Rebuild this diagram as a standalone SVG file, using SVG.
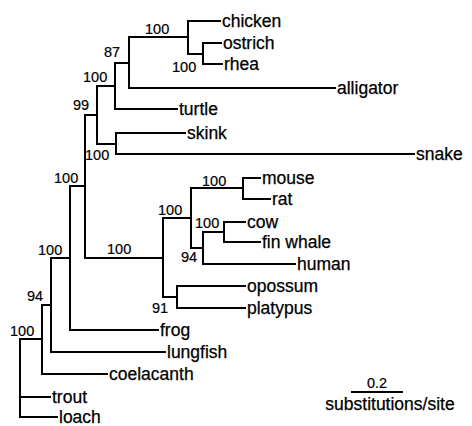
<svg xmlns="http://www.w3.org/2000/svg" width="472" height="426" viewBox="0 0 472 426">
<style>
.br{fill:none;stroke:#000;stroke-width:2;stroke-linecap:square}
.tx{font-family:"Liberation Sans",Arial,sans-serif;font-size:17.5px;fill:#000;stroke:#000;stroke-width:0.25}
.bs{font-family:"Liberation Sans",Arial,sans-serif;font-size:14.5px;fill:#000;stroke:#000;stroke-width:0.2}
</style>
<rect width="472" height="426" fill="#fff"/>
<g id="connectors" class="br">
<path d="M188 21V54M203 43V64M129 37V88M115 63V109M116 133V154M97 86V144M243 178V199M224 222V242M203 232V264M191 188V248M177 286V308M163 218V297M85 115V258M70 186V330M51 258V352M42 305V374M20 339V417"/>
<path d="M188 21H220M203 43H221M203 64H222M188 54H203M129 37H188M129 88H335M115 63H129M115 109H177M97 86H115M116 133H185M116 154H414M97 144H116M85 115H97"/>
<path d="M243 178H260M243 199H270M191 188H243M224 222H245M224 242H260M203 232H224M203 264H295M191 248H203M163 218H191M177 286H245M177 308H245M163 297H177M85 258H163"/>
<path d="M70 186H85M70 330H158M51 258H70M51 352H165M42 305H51M42 374H107M20 339H42M20 397H50M20 417H57"/>
<path d="M352 392H402"/>
</g>
<g id="chicken"><text class="tx" x="222" y="27">chicken</text></g>
<g id="ostrich"><text class="tx" x="223" y="49">ostrich</text></g>
<g id="rhea"><text class="tx" x="224" y="70">rhea</text></g>
<g id="alligator"><text class="tx" x="337" y="94">alligator</text></g>
<g id="turtle"><text class="tx" x="179" y="115">turtle</text></g>
<g id="skink"><text class="tx" x="187" y="139">skink</text></g>
<g id="snake"><text class="tx" x="416" y="160">snake</text></g>
<g id="mouse"><text class="tx" x="262" y="184">mouse</text></g>
<g id="rat"><text class="tx" x="272" y="205">rat</text></g>
<g id="cow"><text class="tx" x="247" y="228">cow</text></g>
<g id="fin-whale"><text class="tx" x="262" y="248">fin whale</text></g>
<g id="human"><text class="tx" x="297" y="270">human</text></g>
<g id="opossum"><text class="tx" x="247" y="292">opossum</text></g>
<g id="platypus"><text class="tx" x="247" y="314">platypus</text></g>
<g id="frog"><text class="tx" x="160" y="336">frog</text></g>
<g id="lungfish"><text class="tx" x="167" y="358">lungfish</text></g>
<g id="coelacanth"><text class="tx" x="109" y="380">coelacanth</text></g>
<g id="trout"><text class="tx" x="52" y="403">trout</text></g>
<g id="loach"><text class="tx" x="59" y="423">loach</text></g>
<g id="support-values" class="bs">
<text x="145" y="34">100</text>
<text x="172" y="72">100</text>
<text x="104" y="57">87</text>
<text x="83" y="82">100</text>
<text x="73" y="110">99</text>
<text x="85" y="160">100</text>
<text x="54" y="183">100</text>
<text x="107" y="254">100</text>
<text x="158" y="215">100</text>
<text x="202" y="186">100</text>
<text x="195" y="228">100</text>
<text x="181" y="262">94</text>
<text x="152" y="313">91</text>
<text x="38" y="255">100</text>
<text x="27" y="301">94</text>
<text x="10" y="336">100</text>
</g>
<g id="scale-bar">
<text class="bs" x="377" y="388" text-anchor="middle">0.2</text>
<text class="tx" x="390" y="410" text-anchor="middle">substitutions/site</text>
</g>
</svg>
